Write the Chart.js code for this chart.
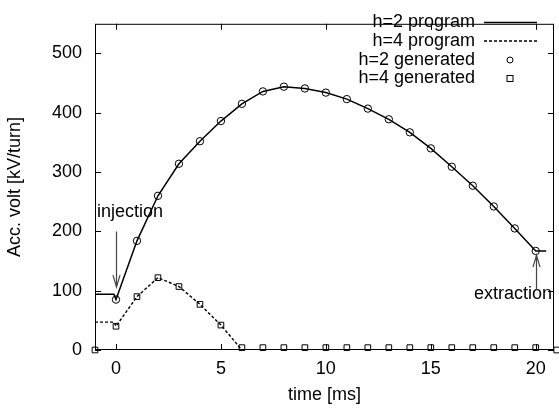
<!DOCTYPE html>
<html>
<head>
<meta charset="utf-8">
<script src="https://cdn.jsdelivr.net/npm/chart.js@4.4.1/dist/chart.umd.min.js"></script>
<style>
  html, body { margin: 0; padding: 0; background: #fff; }
  #wrap { width: 559px; height: 410px; }
</style>
</head>
<body>
<div id="wrap"><canvas id="c" width="559" height="410"></canvas></div>
<script>
// ---- data ----
const genTimes = [0,1,2,3,4,5,6,7,8,9,10,11,12,13,14,15,16,17,18,19,20];
const h2Generated = [85,184,260,314,352,386,415,436,444,441,434,423,407,389,367,340,309,277,242,205,167];

const h4GenTimes = [-1,0,1,2,3,4,5,6,7,8,9,10,11,12,13,14,15,16,17,18,19,20,21];
const h4Generated = [0,40,90,122,107,77,42,4,4,4,4,4,4,4,4,4,4,4,4,4,4,4,0];

const h2ProgTimes = [-1,-0.1,0,1,2,3,4,5,6,7,8,9,10,11,12,13,14,15,16,17,18,19,20,20.5];
const h2Program   = [94,94,85,184,260,314,352,386,415,436,444,441,434,423,407,389,367,340,309,277,242,205,167,167];

const h4ProgTimes = [-1,-0.1,0,1,2,3,4,5,6,21];
const h4Program   = [47,47,40,90,122,107,77,42,0,0];

const xTicks = [0,5,10,15,20];
const yTicks = [0,100,200,300,400,500];

const seriesNames = ['h=2 program','h=4 program','h=2 generated','h=4 generated'];
const xTitle = 'time [ms]';
const yTitle = 'Acc. volt [kV/turn]';

const FONT = '"Liberation Sans", Arial, Helvetica, sans-serif';
const FS = 18;
const pts = (xs, ys) => xs.map((x, i) => ({x: x, y: ys[i]}));

// frame, inward ticks, legend, annotations
const decor = {
  id: 'decor',
  afterDraw(chart) {
    const ctx = chart.ctx;
    const a = chart.chartArea;
    const xs = chart.scales.x, ys = chart.scales.y;
    ctx.save();
    ctx.strokeStyle = '#000';
    ctx.lineWidth = 1;
    ctx.strokeRect(a.left + 0.5, a.top + 0.5, a.right - a.left - 1, a.bottom - a.top - 1);
    const tl = 6;
    ctx.beginPath();
    xTicks.forEach(v => {
      const px = Math.round(xs.getPixelForValue(v)) + 0.5;
      ctx.moveTo(px, a.bottom); ctx.lineTo(px, a.bottom - tl);
      ctx.moveTo(px, a.top); ctx.lineTo(px, a.top + tl);
    });
    yTicks.forEach(v => {
      const py = Math.round(ys.getPixelForValue(v)) + 0.5;
      ctx.moveTo(a.left, py); ctx.lineTo(a.left + tl, py);
      ctx.moveTo(a.right, py); ctx.lineTo(a.right - tl, py);
    });
    ctx.stroke();

    // legend
    ctx.font = FS + 'px ' + FONT;
    ctx.fillStyle = '#000';
    ctx.textAlign = 'right';
    ctx.textBaseline = 'middle';
    const textRight = 475, sx0 = 484, sx1 = 537, sxm = 510;
    const rows = [22.5, 41, 60, 78.5];
    seriesNames.forEach((name, i) => {
      ctx.fillText(name, textRight, rows[i]);
    });
    ctx.lineWidth = 1.3;
    ctx.beginPath(); ctx.moveTo(sx0, rows[0]); ctx.lineTo(sx1, rows[0]); ctx.stroke();
    ctx.setLineDash([3, 2]);
    ctx.beginPath(); ctx.moveTo(sx0, rows[1]); ctx.lineTo(sx1, rows[1]); ctx.stroke();
    ctx.setLineDash([]);
    ctx.lineWidth = 1;
    ctx.beginPath(); ctx.arc(sxm, rows[2], 3, 0, Math.PI * 2); ctx.stroke();
    ctx.strokeRect(sxm - 3, rows[3] - 3, 6, 6);

    // annotations
    ctx.textAlign = 'left';
    ctx.fillText('injection', 97, 212);
    ctx.fillText('extraction', 474, 294);
    ctx.strokeStyle = '#444';
    ctx.lineWidth = 1.2;
    const arrow = (x, y0, y1) => {
      const px = Math.round(xs.getPixelForValue(x)) + 0.5;
      const p0 = ys.getPixelForValue(y0), p1 = ys.getPixelForValue(y1);
      const dir = p1 > p0 ? 1 : -1;
      ctx.beginPath();
      ctx.moveTo(px, p0); ctx.lineTo(px, p1);
      ctx.moveTo(px - 3.5, p1 - dir * 12); ctx.lineTo(px, p1); ctx.lineTo(px + 3.5, p1 - dir * 12);
      ctx.stroke();
    };
    arrow(0, 200, 106);
    arrow(20, 101, 160);
    ctx.restore();
  }
};

new Chart(document.getElementById('c'), {
  type: 'scatter',
  data: {
    datasets: [
      { label: seriesNames[0], data: pts(h2ProgTimes, h2Program), showLine: true,
        borderColor: '#000', borderWidth: 1.5, pointRadius: 0, tension: 0, order: 2 },
      { label: seriesNames[1], data: pts(h4ProgTimes, h4Program), showLine: true,
        borderColor: '#000', borderWidth: 1.4, borderDash: [3, 2], pointRadius: 0, tension: 0, order: 2 },
      { label: seriesNames[2], data: pts(genTimes, h2Generated), showLine: false,
        pointStyle: 'circle', pointRadius: 3.7, borderColor: '#000', borderWidth: 1,
        backgroundColor: 'rgba(0,0,0,0)', clip: 6, order: 1 },
      { label: seriesNames[3], data: pts(h4GenTimes, h4Generated), showLine: false,
        pointStyle: 'rect', pointRadius: 4, borderColor: '#000', borderWidth: 1,
        backgroundColor: 'rgba(0,0,0,0)', clip: 6, order: 1 }
    ]
  },
  options: {
    responsive: false,
    animation: false,
    devicePixelRatio: 1,
    layout: { padding: { left: 0, right: 2, top: 8, bottom: 0 } },
    plugins: { legend: { display: false }, tooltip: { enabled: false } },
    scales: {
      x: {
        type: 'linear', min: -1, max: 20.87,
        afterBuildTicks: s => { s.ticks = xTicks.map(v => ({value: v})); },
        afterFit: s => { s.height = 60; },
        grid: { display: false, drawTicks: false }, border: { display: false },
        ticks: { color: '#000', font: { family: FONT, size: FS }, padding: 8, maxRotation: 0 },
        title: { display: true, text: xTitle, color: '#000', font: { family: FONT, size: FS }, padding: { top: 4, bottom: 4 } }
      },
      y: {
        type: 'linear', min: 0, max: 550,
        afterBuildTicks: s => { s.ticks = yTicks.map(v => ({value: v})); },
        afterFit: s => { s.width = 95; },
        grid: { display: false, drawTicks: false }, border: { display: false },
        ticks: { color: '#000', font: { family: FONT, size: FS }, padding: 13 },
        title: { display: true, text: yTitle, color: '#000', font: { family: FONT, size: FS }, padding: { top: 4, bottom: 4 } }
      }
    }
  },
  plugins: [decor]
});
</script>
</body>
</html>
